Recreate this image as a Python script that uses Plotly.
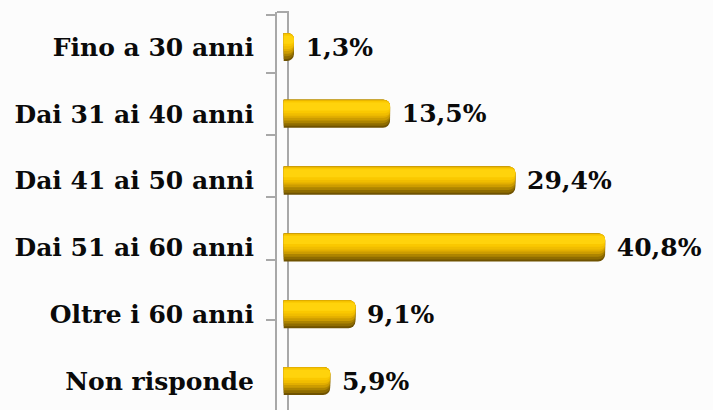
import plotly.graph_objects as go

categories = ["Fino a 30 anni", "Dai 31 ai 40 anni", "Dai 41 ai 50 anni",
              "Dai 51 ai 60 anni", "Oltre i 60 anni", "Non risponde"]
values = [1.3, 13.5, 29.4, 40.8, 9.1, 5.9]
value_labels = [" " + f"{v:.1f}".replace(".", ",") + "%" for v in values]

W, H = 713, 410
ML, MT = 277, 12
PW, PH = W - ML, H - MT

font_fam = "DejaVu Serif"
fig = go.Figure()

# layered bars to mimic a cylinder (offset start, width, colour, corner radius)
layers = [
    (-0.21, 0.42, "#6f5200", 7),
    (-0.21, 0.39, "#8f6c00", 7),
    (-0.21, 0.35, "#ad8400", 7),
    (-0.21, 0.31, "#cc9c00", 6),
    (-0.21, 0.27, "#e2ae00", 6),
    (-0.20, 0.23, "#f0bd00", 5),
    (-0.19, 0.18, "#fac800", 5),
    (-0.17, 0.12, "#ffd30c", 4),
]
for i, (off, wd, col, cr) in enumerate(layers):
    fig.add_trace(go.Bar(
        y=categories, x=values, orientation="h",
        offset=off, width=wd,
        marker=dict(color=col, line=dict(width=0), cornerradius=cr),
        text=value_labels if i == 0 else None,
        textposition="outside" if i == 0 else "none",
        outsidetextfont=dict(family=font_fam, size=25, color="#0a0a0a", weight="bold"),
        constraintext="none", cliponaxis=False,
        showlegend=False, hoverinfo="skip",
    ))

# invisible trace to bring the tick/axis overlay to life
fig.add_trace(go.Scatter(x=[], y=[], yaxis="y2", showlegend=False))

fig.update_layout(
    width=W, height=H,
    margin=dict(l=ML, r=0, t=MT, b=0),
    paper_bgcolor="#fcfcfc", plot_bgcolor="rgba(0,0,0,0)",
    barmode="overlay",
    xaxis=dict(visible=False, range=[-0.85, 54.5], fixedrange=True),
    yaxis=dict(type="category", range=[5.434, -0.524], autorange=False,
               showline=False, showgrid=False, zeroline=False, ticks="",
               ticklabelstandoff=22,
               tickfont=dict(family=font_fam, size=25, color="#0a0a0a", weight="bold")),
    yaxis2=dict(overlaying="y", anchor="x", side="left",
                range=[398 / 61.8, -0.05], autorange=False,
                tickvals=[0, 0.95, 1.95, 2.97, 4.0, 4.98], ticks="outside", ticklen=9,
                tickwidth=2, tickcolor="#a8a8a8",
                showline=True, linecolor="#a8a8a8", linewidth=2,
                showticklabels=False, showgrid=False, zeroline=False),
    shapes=[dict(type="path", xref="paper", yref="paper",
                 path=f"M 0,1 L {11/PW},1 L {11/PW},0",
                 line=dict(color="#a8a8a8", width=2), layer="below")],
)

fig.write_html("out.html", config={"displayModeBar": False},
               post_script="document.body.style.margin='0';document.body.style.overflow='hidden';")
